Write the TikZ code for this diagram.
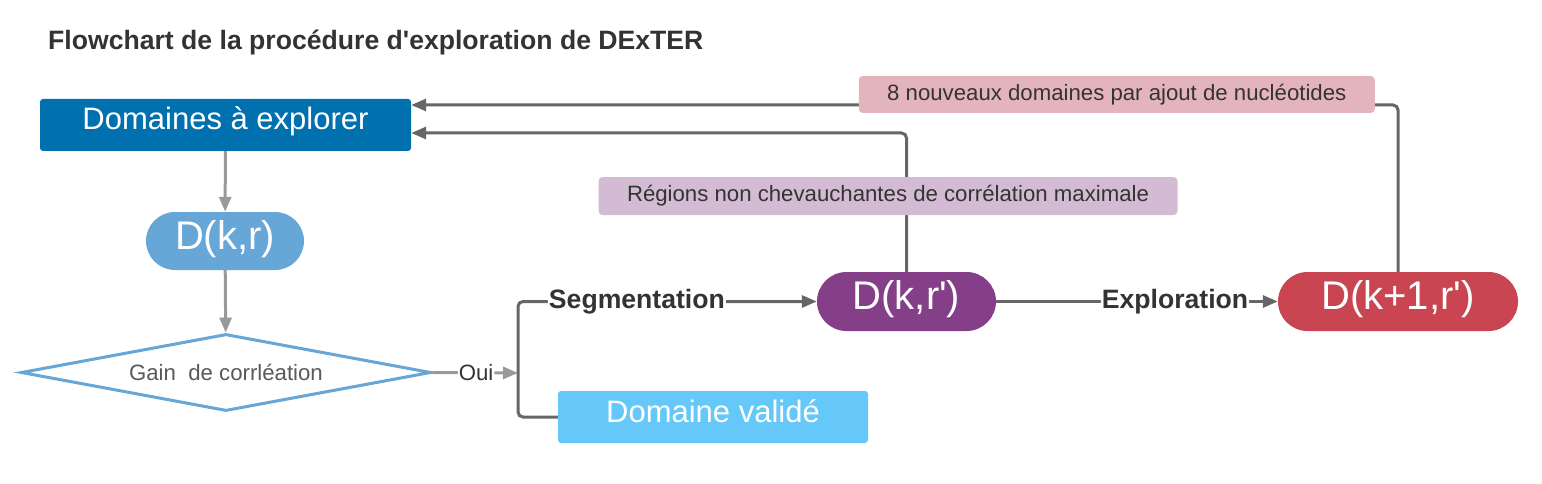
\documentclass[tikz,border=0pt]{standalone}
\usepackage{fontspec}
\setmainfont{Liberation Sans}[Ligatures=TeXOff]
\usetikzlibrary{arrows.meta,shapes.geometric,shapes.misc}

\definecolor{bleudom}{RGB}{0,112,174}
\definecolor{bleudk}{RGB}{103,167,216}
\definecolor{violetdk}{RGB}{132,63,136}
\definecolor{rougedk}{RGB}{201,69,81}
\definecolor{bleuvalid}{RGB}{102,200,249}
\definecolor{roseetiq}{RGB}{228,180,189}
\definecolor{mauveetiq}{RGB}{211,188,211}
\definecolor{grisfonce}{RGB}{102,102,102}
\definecolor{grisclair}{RGB}{153,153,153}
\definecolor{texte}{RGB}{51,51,51}

\begin{document}
\begin{tikzpicture}[
        x = 1pt, y = -1pt,
        every node/.append style={
          inner sep = 0pt,
        },
        boite/.style={
          rounded corners = 3pt,
          text = white,
          font = \fontsize{31}{36}\selectfont,
          text height = 21pt,
          text depth = 11pt,
          minimum height = 52pt,
        },
        pilule/.style={
          rounded rectangle,
          text = white,
          font = \fontsize{40}{46}\selectfont,
          text height = 31pt,
          text depth = 15pt,
          minimum height = 59pt,
        },
        etiquette/.style={
          rounded corners = 4pt,
          text = texte,
          font = \fontsize{22.2}{26}\selectfont,
          minimum height = 37pt,
        },
        gras/.style={
          fill = white,
          inner sep = 1pt,
          text = texte,
          font = \bfseries\fontsize{26.6}{31}\selectfont,
        },
        fleche/.style={
          draw = grisfonce,
          line width = 3pt,
          rounded corners = 5pt,
          -{Triangle[length=15pt, width=12pt]},
        },
        flechegrise/.style={
          fleche,
          draw = grisclair,
          fill = grisclair,
        },
        ]
        \useasboundingbox (0,0) rectangle (1542,484);

        % titre
        \node [anchor=base west, text=texte, font=\bfseries\fontsize{26.6}{31}\selectfont]
          (titre) at (48,50) {Flowchart de la procédure d'exploration de DExTER};

        % colonne de gauche
        \node [boite, fill=bleudom, minimum width=371pt] (dom) at (225.5,125) {Domaines à explorer};
        \node [pilule, fill=bleudk, minimum width=158pt, minimum height=58pt] (dkr) at (225,241) {D(k,r)};
        \node [diamond, draw=bleudk, line width=3pt, fill=white, aspect=5.2,
          minimum width=410pt, minimum height=77pt, text=black!65,
          font=\fontsize{22.2}{26}\selectfont] (gain) at (226,372.5) {Gain\ \ de corrléation};
        \coordinate (split) at (518,373);

        % domaines suivants
        \node [pilule, fill=violetdk, minimum width=179pt] (dkp) at (906.5,301.5) {D(k,r')};
        \node [pilule, fill=rougedk, minimum width=240pt] (dkp1) at (1398,301.5) {D(k+1,r')};
        \node [boite, fill=bleuvalid, minimum width=310pt] (valid) at (713,417) {Domaine validé};

        % fleches
        \draw [flechegrise] (dom) -- (dkr);
        \draw [flechegrise] (dkr) -- (gain);
        \draw [flechegrise] (gain.east) -- node [pos=0.51, fill=white, inner sep=1pt,
          text=texte, font=\fontsize{22.2}{26}\selectfont] (oui) {Oui} (split);
        \draw [fleche] (valid.west) -| (split) |- node [gras, pos=0.699] (seg) {Segmentation} (dkp.west);
        \draw [fleche] (dkp.east) -- node [gras, pos=0.635] (expl) {Exploration} (dkp1.west);

        % retours
        \draw [fleche] (dkp1.north) |- node [etiquette, fill=roseetiq, minimum width=516pt,
          pos=0.6425, yshift=10.5pt] (nouv) {8 nouveaux domaines par ajout de nucléotides}
          ([yshift=20pt]dom.east);
        \draw [fleche] (dkp.north) |- node [etiquette, fill=mauveetiq, minimum width=579pt,
          minimum height=38pt, pos=0.273, xshift=-18.5pt] (regions)
          {Régions non chevauchantes de corrélation maximale} ([yshift=-8pt]dom.east);
      \end{tikzpicture}
\end{document}
